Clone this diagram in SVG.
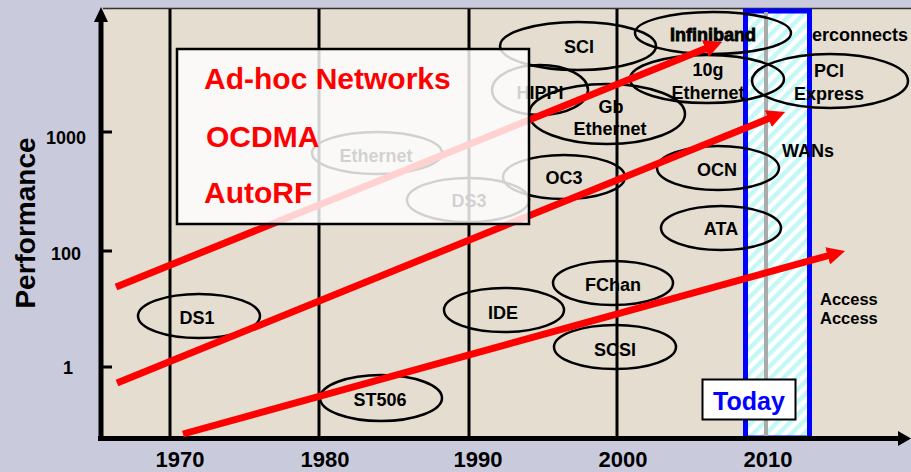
<svg xmlns="http://www.w3.org/2000/svg" width="911" height="472" viewBox="0 0 911 472">
  <defs>
    <style>
      text { font-family: "Liberation Sans", Arial, sans-serif; font-weight: bold; }
      .lbl { font-size: 18px; fill: #000; text-anchor: middle; }
      .lbs { font-size: 18px; fill: #000; }
      .axl { font-size: 22px; fill: #000; text-anchor: middle; }
      .ell { fill: none; stroke: #000; stroke-width: 2.5; }
      .grid { stroke: #000; stroke-width: 3; }
      .trend { stroke: #ff0000; stroke-width: 7; fill: none; marker-end: url(#ah); }
      .big { font-size: 30px; fill: #ff0000; }
    </style>
    <marker id="ah" markerUnits="userSpaceOnUse" viewBox="0 0 18 18" markerWidth="18" markerHeight="18" refX="5" refY="9" orient="auto">
      <path d="M0,0 L18,9 L0,18 z" fill="#ff0000"/>
    </marker>
    <pattern id="hatch" patternUnits="userSpaceOnUse" width="9" height="9" patternTransform="rotate(45)">
      <rect width="9" height="9" fill="#ffffff"/>
      <rect width="4.5" height="9" fill="#c6f7f7"/>
    </pattern>
  </defs>

  <!-- background -->
  <rect x="0" y="0" width="911" height="472" fill="#cacadd"/>
  <rect x="103" y="8" width="810" height="430" fill="#e4ddd0"/>
  <line x1="103" y1="8.5" x2="911" y2="8.5" stroke="#333" stroke-width="1.5"/>

  <!-- Today band -->
  <g id="today-band">
    <rect x="745.5" y="11" width="64" height="427" fill="url(#hatch)" stroke="#0000ff" stroke-width="5"/>
    <line x1="766" y1="12" x2="766" y2="436" stroke="#aaaaaa" stroke-width="4"/>
  </g>

  <!-- grid lines -->
  <g id="grid">
    <line class="grid" x1="170" y1="9" x2="170" y2="437"/>
    <line class="grid" x1="319" y1="9" x2="319" y2="437"/>
    <line class="grid" x1="469" y1="9" x2="469" y2="437"/>
    <line class="grid" x1="617" y1="9" x2="617" y2="437"/>
  </g>

  <!-- axes -->
  <g id="axes">
    <line x1="101" y1="441" x2="101" y2="20" stroke="#000" stroke-width="5"/>
    <path d="M94,22 L101,7 L108,22 z" fill="#000"/>
    <line x1="98" y1="438.5" x2="900" y2="438.5" stroke="#000" stroke-width="5"/>
    <path d="M898,431 L911,438.5 L898,446 z" fill="#000"/>
    <line x1="101" y1="132" x2="112" y2="132" stroke="#000" stroke-width="3"/>
    <line x1="101" y1="251" x2="112" y2="251" stroke="#000" stroke-width="3"/>
    <line x1="101" y1="367" x2="112" y2="367" stroke="#000" stroke-width="3"/>
    <text class="lbl" x="66" y="144">1000</text>
    <text class="lbl" x="66" y="260">100</text>
    <text class="lbl" x="68" y="374">1</text>
    <text class="axl" x="180" y="467">1970</text>
    <text class="axl" x="325" y="467">1980</text>
    <text class="axl" x="478" y="467">1990</text>
    <text class="axl" x="623" y="467">2000</text>
    <text class="axl" x="768" y="467">2010</text>
    <text transform="translate(35,223) rotate(-90)" font-size="28" text-anchor="middle" fill="#000">Performance</text>
  </g>

  <!-- faint nodes under the text box -->
  <g id="n-ethernet-old">
    <ellipse class="ell" cx="377" cy="153" rx="65" ry="21"/>
    <text class="lbl" x="376" y="162">Ethernet</text>
  </g>
  <g id="n-ds3">
    <ellipse class="ell" cx="468" cy="200" rx="61" ry="22"/>
    <text class="lbl" x="469" y="207">DS3</text>
  </g>

  <!-- nodes -->
  <g id="n-ds1"><ellipse class="ell" cx="199" cy="316" rx="61" ry="22"/><text class="lbl" x="197" y="324">DS1</text></g>
  <g id="n-st506"><ellipse class="ell" cx="381" cy="398" rx="61" ry="23"/><text class="lbl" x="380" y="406">ST506</text></g>
  <g id="n-ide"><ellipse class="ell" cx="504" cy="310" rx="60" ry="22"/><text class="lbl" x="503" y="319">IDE</text></g>
  <g id="n-fchan"><ellipse class="ell" cx="613" cy="283" rx="60" ry="22"/><text class="lbl" x="613" y="291">FChan</text></g>
  <g id="n-scsi"><ellipse class="ell" cx="615" cy="347" rx="61" ry="22"/><text class="lbl" x="615" y="356">SCSI</text></g>
  <g id="n-ata"><ellipse class="ell" cx="721" cy="228" rx="60" ry="22"/><text class="lbl" x="721" y="235">ATA</text></g>
  <g id="n-ocn"><ellipse class="ell" cx="718" cy="168" rx="61" ry="22"/><text class="lbl" x="717" y="176">OCN</text></g>
  <g id="n-oc3"><ellipse class="ell" cx="564" cy="177" rx="61" ry="22"/><text class="lbl" x="564" y="184">OC3</text></g>
  <g id="n-gbe"><ellipse class="ell" cx="607" cy="114" rx="78" ry="30"/><text class="lbl" x="611" y="113">Gb</text><text class="lbl" x="610" y="135">Ethernet</text></g>
  <g id="n-hippi"><ellipse class="ell" cx="540" cy="90" rx="48" ry="25"/><text class="lbl" x="540" y="99">HIPPI</text></g>
  <g id="n-sci"><ellipse class="ell" cx="578" cy="46" rx="78" ry="24"/><text class="lbl" x="579" y="53">SCI</text></g>
  <g id="n-10g"><ellipse class="ell" cx="707" cy="79" rx="77" ry="24"/><text class="lbl" x="708" y="76">10g</text><text class="lbl" x="708" y="99">Ethernet</text></g>
  <g id="n-infiniband"><ellipse class="ell" cx="713" cy="33" rx="78" ry="21"/><text class="lbl" x="713" y="41" stroke="#000" stroke-width="0.8">Infiniband</text></g>
  <g id="n-pci"><ellipse class="ell" cx="830" cy="81" rx="78" ry="27"/><text class="lbl" x="829" y="77">PCI</text><text class="lbl" x="829" y="100">Express</text></g>
  <g id="n-interconnects"><text class="lbs" x="812" y="41">erconnects</text></g>
  <g id="n-wans"><text class="lbs" x="782" y="157">WANs</text></g>
  <g id="n-access"><text class="lbs" x="820" y="305" font-size="16.5" style="font-size:16.5px">Access</text><text class="lbs" x="820" y="324" style="font-size:16.5px">Access</text></g>

  <!-- trend arrows -->
  <g id="connectors">
    <line class="trend" x1="116" y1="287" x2="710" y2="46.8"/>
    <line class="trend" x1="117" y1="383" x2="773" y2="116.8"/>
    <line class="trend" x1="183" y1="434" x2="832.5" y2="254.5"/>
  </g>

  <!-- text box overlay -->
  <g id="textbox">
    <rect x="177" y="49" width="352" height="175" fill="#ffffff" fill-opacity="0.82" stroke="#000" stroke-width="2.5"/>
    <text class="big" x="204" y="89">Ad-hoc Networks</text>
    <text class="big" x="206" y="147">OCDMA</text>
    <text class="big" x="204" y="203">AutoRF</text>
  </g>

  <!-- Today label -->
  <g id="today-label">
    <rect x="702.5" y="379.5" width="93" height="40" fill="#ffffff" stroke="#000" stroke-width="2"/>
    <text x="749" y="410" font-size="25" text-anchor="middle" fill="#0000ff">Today</text>
  </g>
</svg>
